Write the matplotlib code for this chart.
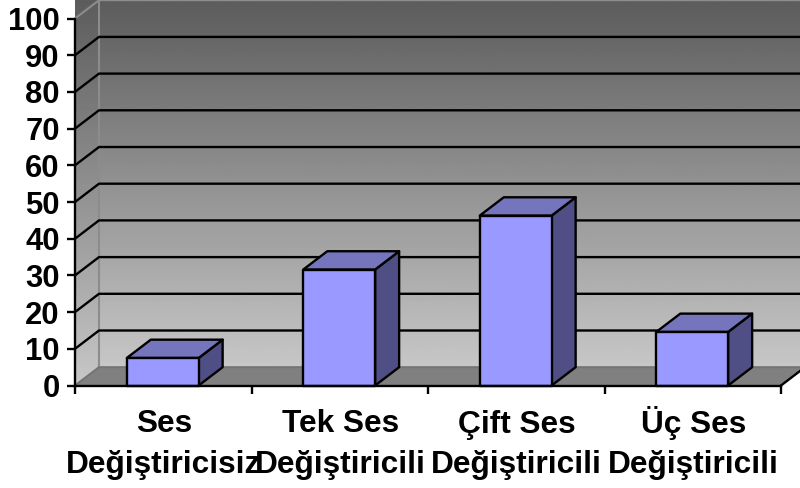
import matplotlib
matplotlib.use('Agg')
import matplotlib.pyplot as plt
from matplotlib.patches import Polygon
import numpy as np

categories = ['Ses\nDeğiştiricisiz', 'Tek Ses\nDeğiştiricili', 'Çift Ses\nDeğiştiricili', 'Üç Ses\nDeğiştiricili']
values = [7.5, 31.6, 46.3, 14.6]
yticks = list(range(0, 101, 10))

plt.rcParams['font.family'] = ['Liberation Sans', 'DejaVu Sans']

W, H = 800, 488
fig = plt.figure(figsize=(W / 100, H / 100), dpi=100)
ax = fig.add_axes([75 / W, 1 - 385.5 / H, 706 / W, 367 / H])
ax.set_xlim(0, 4)
ax.set_ylim(0, 100)

# depth of the fake 3d box, in data units
dx = 24 / 176.5
dy = 18.3 / 3.67
bar_w = 0.407
lw = 1.7

# gradient for the walls, dark at the top
grad = np.linspace(0.78, 0.36, 256).reshape(-1, 1)
back = ax.imshow(grad, cmap='gray', vmin=0, vmax=1, aspect='auto', origin='lower',
                 extent=(dx, 4 + dx, dy, 100 + dy), zorder=1, clip_on=False)
back.set_clip_path(Polygon([(dx, dy), (4 + dx, dy), (4 + dx, 100 + dy), (dx, 100 + dy)],
                           transform=ax.transData))
side = ax.imshow(grad, cmap='gray', vmin=0, vmax=1, aspect='auto', origin='lower',
                 extent=(0, dx, 0, 100 + dy), zorder=1, clip_on=False)
side.set_clip_path(Polygon([(0, 0), (dx, dy), (dx, 100 + dy), (0, 100)], transform=ax.transData))
ax.set_xlim(0, 4)
ax.set_ylim(0, 100)

# floor
ax.add_patch(Polygon([(0, 0), (dx, dy), (4 + dx, dy), (4, 0)], closed=True, fc='#808080',
                     ec='none', zorder=2, clip_on=False))

# wall edges
ax.plot([dx, dx], [dy, 100 + dy], color='#8c8c8c', lw=1.5, zorder=2, clip_on=False)
ax.plot([0, dx, 4 + dx], [100, 100 + dy, 100 + dy], color='#8c8c8c', lw=1.5, zorder=2, clip_on=False)
ax.plot([0, dx, 4 + dx], [0, dy, dy], color='#747474', lw=1.5, zorder=2, clip_on=False)

# grid lines along side and back wall
for t in yticks[1:-1]:
    ax.plot([0, dx, 4 + dx], [t, t + dy, t + dy], color='black', lw=lw, zorder=3, clip_on=False)
ax.plot([4, 4 + dx], [0, dy], color='black', lw=lw, zorder=3, clip_on=False)

# bars
for i, v in enumerate(values):
    x0 = i + 0.497 - bar_w / 2
    x1 = i + 0.497 + bar_w / 2
    ax.add_patch(Polygon([(x1, 0), (x1 + dx, dy), (x1 + dx, v + dy), (x1, v)], closed=True,
                         fc='#4f4f85', ec='black', lw=lw, joinstyle='round', zorder=4, clip_on=False))
    ax.add_patch(Polygon([(x0, v), (x0 + dx, v + dy), (x1 + dx, v + dy), (x1, v)], closed=True,
                         fc='#7575bd', ec='black', lw=lw, joinstyle='round', zorder=4, clip_on=False))
    ax.add_patch(Polygon([(x0, 0), (x0, v), (x1, v), (x1, 0)], closed=True,
                         fc='#9999ff', ec='black', lw=lw, joinstyle='round', zorder=5, clip_on=False))

for s in ['top', 'right']:
    ax.spines[s].set_visible(False)
for s in ['left', 'bottom']:
    ax.spines[s].set_linewidth(lw)
    ax.spines[s].set_zorder(6)

ax.set_yticks(yticks)
ax.set_yticklabels([str(t) for t in yticks], fontsize=22.3, fontweight='bold')
ax.set_xticks(range(5))
ax.set_xticklabels([])
ax.tick_params(axis='y', length=6, width=lw, pad=5)
ax.tick_params(axis='x', length=6, width=lw)

# each label line on its own baseline so they all sit level
for i, c in enumerate(categories):
    for j, line in enumerate(c.split('\n')):
        ax.annotate(line, xy=(i + 0.503, 0), xycoords='data', xytext=(0, -47 - 41 * j), textcoords='offset pixels',
                    ha='center', va='baseline', fontsize=22.8, fontweight='bold', annotation_clip=False)

fig.savefig('out.png', dpi=100)
